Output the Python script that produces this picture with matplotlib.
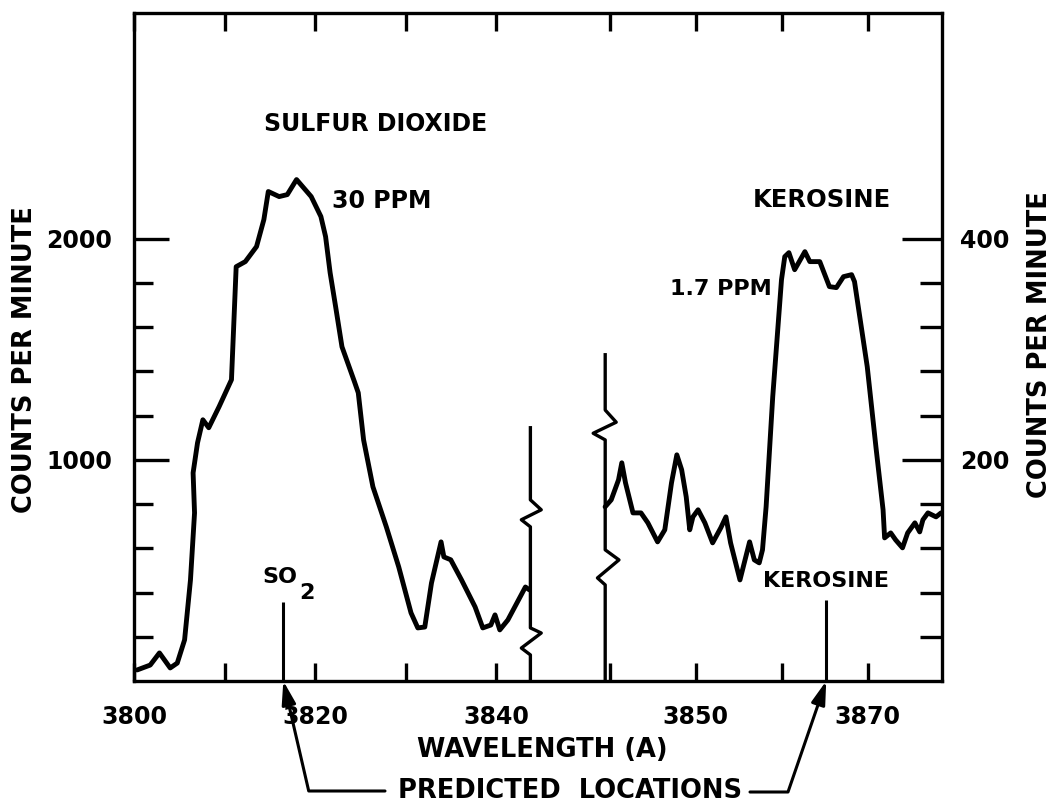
import numpy as np
import matplotlib.pyplot as plt
from matplotlib.ticker import FixedLocator

plt.rcParams['font.family'] = ['DejaVu Sans']
plt.rcParams['font.weight'] = 'bold'

# sulfur dioxide trace (left scale, counts per minute)
so2_wl = [3800.35, 3801.79, 3802.81, 3804.0, 3804.78, 3805.59, 3806.24, 3806.69,
          3806.53, 3807.02, 3807.61, 3808.26, 3809.40, 3810.77, 3811.29, 3812.30,
          3813.54, 3814.35, 3814.84, 3816.04, 3816.94, 3817.96, 3819.58, 3820.65,
          3821.17, 3821.67, 3822.28, 3822.98, 3824.36, 3824.78, 3825.37, 3826.40,
          3827.88, 3829.25, 3830.61, 3831.36, 3832.13, 3832.87, 3833.93, 3834.24,
          3835.0, 3836.19, 3837.69, 3838.54, 3839.43, 3839.89, 3840.42, 3841.31,
          3843.25, 3843.69]
so2_cpm = [50, 72, 127, 59, 81, 186, 457, 760,
           941, 1077, 1181, 1145, 1240, 1362, 1873, 1896,
           1964, 2086, 2213, 2190, 2199, 2267, 2190, 2100,
           2009, 1846, 1692, 1511, 1353, 1303, 1090, 878,
           697, 516, 308, 240, 244, 443, 629, 561,
           548, 457, 335, 240, 253, 299, 231, 276,
           425, 412]

# kerosine trace (right scale, counts per minute)
ker_wl = [3839.49, 3840.20, 3841.05, 3841.43, 3841.86, 3842.73, 3843.66, 3844.46,
          3845.59, 3846.43, 3847.21, 3847.83, 3848.39, 3848.92, 3849.33, 3849.70,
          3850.30, 3851.09, 3851.99, 3852.94, 3853.54, 3854.08, 3855.17, 3856.29,
          3856.84, 3857.41, 3857.79, 3858.21, 3858.98, 3860.0, 3860.38, 3860.86,
          3861.53, 3862.72, 3863.29, 3864.45, 3865.57, 3866.38, 3867.21, 3868.15,
          3868.49, 3869.97, 3870.99, 3871.81, 3871.99, 3872.70, 3873.27, 3874.07,
          3874.67, 3875.51, 3876.07, 3876.44, 3877.03, 3877.97, 3878.55]
ker_cpm = [157.5, 163.8, 181.9, 197.3, 179.2, 152.0, 152.0, 143.0,
           125.8, 136.7, 179.2, 204.5, 191.0, 166.5, 136.7, 148.4,
           154.8, 143.0, 124.9, 138.5, 148.4, 124.9, 91.4, 125.8,
           109.5, 106.8, 118.6, 157.5, 257.0, 362.9, 383.7, 387.3,
           371.9, 388.2, 379.2, 379.2, 356.6, 355.7, 365.6, 367.4,
           361.1, 284.2, 210.9, 154.8, 129.4, 133.9, 127.6, 120.4,
           133.9, 143.0, 134.8, 145.7, 152.0, 148.4, 152.0]

# predicted line locations
so2_pred = 3816.5
ker_pred = 3865.2

# scale-break markers
brk1_x = 3843.8
brk1_y = [1145, 819, 774, 729, 697, 240, 217, 149, 118, 0]
brk1_dx = [0, 0, 1.2, -1.0, 0, 0, 1.2, -1.0, 0, 0]
brk2_x = 3839.5
brk2_y = [295, 245, 234, 224, 218, 118.6, 109.5, 93.2, 86.9, 0]
brk2_dx = [0, 0, 1.28, -1.4, 0, 0, 1.6, -0.9, 0, 0]

W, H = 1052, 805
fig = plt.figure(figsize=(W / 100, H / 100), dpi=100)

x0, xm, x1 = 134, 565, 942
ytop, ybot = 13, 681
# one frame for the whole box, two data axes inside it
frame = fig.add_axes([x0 / W, 1 - ybot / H, (x1 - x0) / W, (ybot - ytop) / H])
frame.set_xticks([])
frame.set_yticks([])
for s in frame.spines.values():
    s.set_linewidth(2.4)

ax1 = fig.add_axes([x0 / W, 1 - ybot / H, (xm - x0) / W, (ybot - ytop) / H])
ax2 = fig.add_axes([xm / W, 1 - ybot / H, (x1 - xm) / W, (ybot - ytop) / H])
for ax in (ax1, ax2):
    ax.patch.set_visible(False)
    for s in ax.spines.values():
        s.set_visible(False)
ax1.set_xlim(3800, 3800 + (xm - x0) / 9.05)
ax2.set_xlim(3850 - (695.5 - xm) / 8.6, 3850 + (x1 - 695.5) / 8.6)
ax1.set_ylim(0, 3020)
ax2.set_ylim(0, 604)

lw = 3.5
ax1.plot(so2_wl, so2_cpm, color='black', lw=lw, solid_joinstyle='round', solid_capstyle='round')
ax2.plot(ker_wl, ker_cpm, color='black', lw=lw, solid_joinstyle='round', solid_capstyle='round')
ax1.plot(brk1_x + np.array(brk1_dx), brk1_y, color='black', lw=2.4, clip_on=False)
ax2.plot(brk2_x + np.array(brk2_dx), brk2_y, color='black', lw=2.4, clip_on=False)
ax1.vlines(so2_pred, 0, 357, color='black', lw=2.2)
ax2.vlines(ker_pred, 0, 73, color='black', lw=2.2)

# x axes
ax1.set_xticks([3800, 3810, 3820, 3830, 3840], ['3800', '', '3820', '', '3840'])
ax2.set_xticks([3840, 3850, 3860, 3870], ['', '3850', '', '3870'])
for ax in (ax1, ax2):
    ax.tick_params(axis='x', which='major', direction='in', length=13, width=2.4,
                   top=True, bottom=True, pad=17, labelsize=17)

# y axes
ax1.yaxis.set_major_locator(FixedLocator([1000, 2000]))
ax1.yaxis.set_minor_locator(FixedLocator([200, 400, 600, 800, 1200, 1400, 1600, 1800]))
ax1.tick_params(axis='y', which='major', direction='in', length=25, width=2.4,
                left=True, right=False, pad=16, labelsize=17)
ax1.tick_params(axis='y', which='minor', direction='in', length=14, width=2.4,
                left=True, right=False)
ax2.yaxis.tick_right()
ax2.yaxis.set_major_locator(FixedLocator([200, 400]))
ax2.yaxis.set_minor_locator(FixedLocator([40, 80, 120, 160, 240, 280, 320, 360]))
ax2.tick_params(axis='y', which='major', direction='in', length=29, width=2.4,
                left=False, right=True, pad=13, labelsize=17)
ax2.tick_params(axis='y', which='minor', direction='in', length=16, width=2.4,
                left=False, right=True)


def ftext(x, y, s, size=17, **kw):
    fig.text(x / W, 1 - y / H, s, fontsize=size, ha='center', va='center', **kw)


ftext(25, 360, 'COUNTS PER MINUTE', 18.5, rotation=90)
ftext(1040, 345, 'COUNTS PER MINUTE', 18.5, rotation=90)
ftext(542, 750, 'WAVELENGTH (A)', 18.5)
ftext(570, 791, 'PREDICTED  LOCATIONS', 18.5)
ftext(376, 124, 'SULFUR DIOXIDE', 17)
ftext(382, 201, '30 PPM', 17)
ftext(822, 200, 'KEROSINE', 17.5)
ftext(721, 289, '1.7 PPM', 16)
ftext(826, 581, 'KEROSINE', 16)
ftext(280, 577, 'SO', 16)
ftext(307, 593, '2', 16)

arrow = dict(arrowstyle='-|>,head_length=1.0,head_width=0.3', color='black', lw=2.2,
             shrinkA=0, shrinkB=0, mutation_scale=14)
ax1.annotate('', xy=(so2_pred, 0), xycoords='data', xytext=(385, H - 791),
             textcoords='figure pixels', annotation_clip=False,
             arrowprops=dict(arrow, connectionstyle='angle,angleA=0,angleB=103,rad=0'))
ax2.annotate('', xy=(ker_pred, 0), xycoords='data', xytext=(750, H - 792),
             textcoords='figure pixels', annotation_clip=False,
             arrowprops=dict(arrow, connectionstyle='angle,angleA=0,angleB=71,rad=0'))

fig.savefig('out.png', dpi=100)
